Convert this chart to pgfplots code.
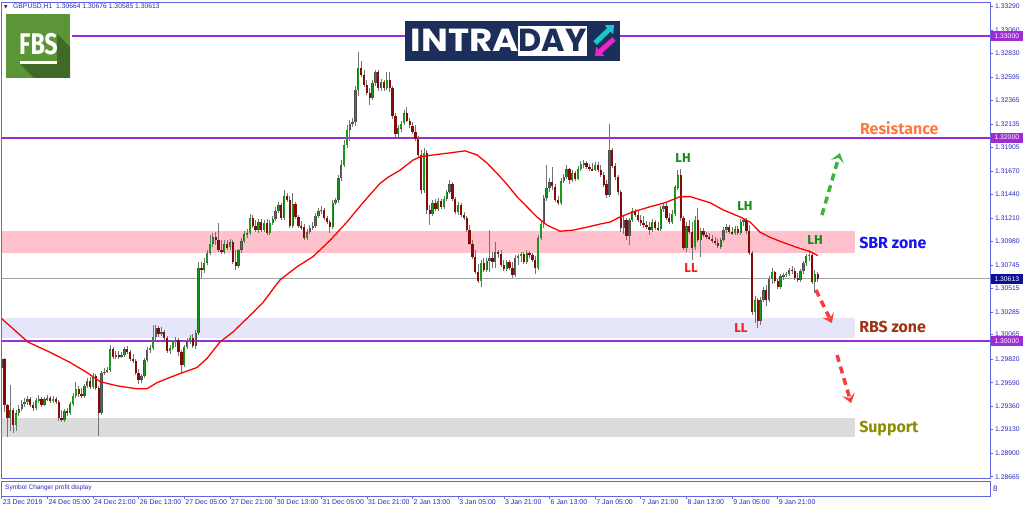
\documentclass[border=0pt]{standalone}
\usepackage{pgfplots}
\pgfplotsset{compat=1.18}
\usepackage{pgfplotstable}
\usetikzlibrary{arrows.meta}
\usepackage{fontspec}
\setmainfont{Liberation Sans}
\newfontfamily\fira{Fira Sans}
\newfontfamily\pop{Poppins}
\newfontfamily\dejavu{DejaVu Sans}
\definecolor{frame}{RGB}{100,100,225}
\definecolor{lab}{RGB}{40,40,190}
\definecolor{purp}{RGB}{155,45,210}
\definecolor{upg}{RGB}{25,155,25}
\definecolor{dnr}{RGB}{135,10,10}
\definecolor{wick}{RGB}{115,115,115}
\definecolor{sbr}{RGB}{255,194,205}
\definecolor{rbs}{RGB}{230,230,250}
\definecolor{sup}{RGB}{220,220,220}
\definecolor{res}{RGB}{255,120,60}
\definecolor{sbrt}{RGB}{20,20,240}
\definecolor{rbst}{RGB}{160,50,20}
\definecolor{supt}{RGB}{140,140,0}
\definecolor{lhg}{RGB}{20,140,20}
\definecolor{llr}{RGB}{250,30,30}
\definecolor{arrg}{RGB}{60,180,60}
\definecolor{arrr}{RGB}{250,60,60}
\definecolor{navy}{RGB}{28,46,90}
\definecolor{fbsg}{RGB}{92,148,56}
\definecolor{fbsd}{RGB}{62,105,38}
\definecolor{cyanA}{RGB}{25,200,205}
\definecolor{magA}{RGB}{230,40,200}
\definecolor{curblue}{RGB}{15,15,150}
\definecolor{curline}{RGB}{165,165,165}

\pgfplotstableread{
i o h l c
0 1.2974 1.2984 1.2973 1.2982
1 1.2982 1.2983 1.2930 1.2937
2 1.2937 1.2938 1.2906 1.2924
3 1.2924 1.2957 1.2912 1.2932
4 1.2932 1.2934 1.2910 1.2917
5 1.2917 1.2932 1.2912 1.2929
6 1.2929 1.2937 1.2926 1.2933
7 1.2933 1.2942 1.2931 1.2938
8 1.2938 1.2944 1.2935 1.2940
9 1.2940 1.2946 1.2937 1.2943
10 1.2943 1.2945 1.2935 1.2937
11 1.2937 1.2940 1.2931 1.2934
12 1.2934 1.2944 1.2932 1.2942
13 1.2942 1.2947 1.2939 1.2943
14 1.2943 1.2945 1.2935 1.2937
15 1.2937 1.2945 1.2936 1.2943
16 1.2943 1.2947 1.2941 1.2944
17 1.2944 1.2946 1.2939 1.2941
18 1.2941 1.2946 1.2939 1.2943
19 1.2943 1.2945 1.2938 1.2940
20 1.2940 1.2942 1.2921 1.2924
21 1.2924 1.2932 1.2920 1.2922
22 1.2922 1.2933 1.2920 1.2931
23 1.2931 1.2934 1.2926 1.2929
24 1.2929 1.2940 1.2927 1.2938
25 1.2938 1.2949 1.2936 1.2946
26 1.2946 1.2960 1.2944 1.2953
27 1.2953 1.2956 1.2945 1.2948
28 1.2948 1.2954 1.2944 1.2946
29 1.2946 1.2958 1.2944 1.2956
30 1.2956 1.2964 1.2954 1.2961
31 1.2961 1.2965 1.2953 1.2955
32 1.2955 1.2969 1.2953 1.2966
33 1.2966 1.2968 1.2952 1.2954
34 1.2954 1.2956 1.2907 1.2929
35 1.2929 1.2971 1.2927 1.2969
36 1.2969 1.2973 1.2967 1.2970
37 1.2970 1.2974 1.2969 1.2972
38 1.2972 1.2996 1.2970 1.2992
39 1.2992 1.2994 1.2982 1.2984
40 1.2984 1.2990 1.2982 1.2986
41 1.2986 1.2990 1.2982 1.2985
42 1.2985 1.2989 1.2983 1.2986
43 1.2986 1.2994 1.2984 1.2992
44 1.2992 1.2995 1.2987 1.2989
45 1.2989 1.2991 1.2980 1.2982
46 1.2982 1.2987 1.2978 1.2980
47 1.2980 1.2982 1.2967 1.2969
48 1.2969 1.2973 1.2958 1.2962
49 1.2962 1.2968 1.2959 1.2966
50 1.2966 1.2983 1.2964 1.2981
51 1.2981 1.2994 1.2979 1.2991
52 1.2991 1.2996 1.2988 1.2993
53 1.2993 1.3016 1.2991 1.3004
54 1.3004 1.3016 1.3001 1.3013
55 1.3013 1.3015 1.3004 1.3007
56 1.3007 1.3014 1.3005 1.3009
57 1.3009 1.3011 1.3001 1.3003
58 1.3003 1.3005 1.2988 1.2990
59 1.2990 1.2996 1.2987 1.2993
60 1.2993 1.3001 1.2991 1.2999
61 1.2999 1.3004 1.2994 1.3001
62 1.3001 1.3003 1.2985 1.2989
63 1.2989 1.2991 1.2969 1.2976
64 1.2976 1.2996 1.2974 1.2994
65 1.2994 1.3003 1.2992 1.3000
66 1.3000 1.3006 1.2997 1.3003
67 1.3003 1.3007 1.2993 1.2995
68 1.2995 1.3011 1.2992 1.3008
69 1.3008 1.3078 1.3006 1.3072
70 1.3072 1.3078 1.3062 1.3070
71 1.3070 1.3082 1.3067 1.3077
72 1.3077 1.3090 1.3075 1.3087
73 1.3087 1.3104 1.3085 1.3096
74 1.3096 1.3106 1.3093 1.3102
75 1.3102 1.3107 1.3095 1.3099
76 1.3099 1.3116 1.3088 1.3090
77 1.3090 1.3099 1.3086 1.3088
78 1.3088 1.3099 1.3086 1.3096
79 1.3096 1.3099 1.3090 1.3092
80 1.3092 1.3100 1.3090 1.3097
81 1.3097 1.3099 1.3076 1.3078
82 1.3078 1.3090 1.3070 1.3074
83 1.3074 1.3091 1.3072 1.3090
84 1.3090 1.3101 1.3087 1.3098
85 1.3098 1.3108 1.3096 1.3105
86 1.3105 1.3110 1.3101 1.3106
87 1.3106 1.3125 1.3104 1.3121
88 1.3121 1.3124 1.3111 1.3113
89 1.3113 1.3119 1.3107 1.3109
90 1.3109 1.3120 1.3106 1.3117
91 1.3117 1.3120 1.3107 1.3109
92 1.3109 1.3119 1.3107 1.3116
93 1.3116 1.3120 1.3104 1.3106
94 1.3106 1.3119 1.3104 1.3116
95 1.3116 1.3123 1.3114 1.3120
96 1.3120 1.3132 1.3118 1.3128
97 1.3128 1.3137 1.3126 1.3134
98 1.3134 1.3136 1.3119 1.3121
99 1.3121 1.3149 1.3119 1.3143
100 1.3143 1.3146 1.3137 1.3139
101 1.3139 1.3143 1.3111 1.3113
102 1.3113 1.3146 1.3111 1.3135
103 1.3135 1.3137 1.3120 1.3122
104 1.3122 1.3124 1.3111 1.3113
105 1.3113 1.3118 1.3109 1.3112
106 1.3112 1.3115 1.3099 1.3101
107 1.3101 1.3110 1.3099 1.3107
108 1.3107 1.3114 1.3105 1.3111
109 1.3111 1.3117 1.3109 1.3113
110 1.3113 1.3126 1.3111 1.3123
111 1.3123 1.3131 1.3121 1.3128
112 1.3128 1.3133 1.3125 1.3129
113 1.3129 1.3131 1.3119 1.3121
114 1.3121 1.3123 1.3115 1.3117
115 1.3117 1.3119 1.3106 1.3112
116 1.3112 1.3139 1.3110 1.3136
117 1.3136 1.3141 1.3134 1.3139
118 1.3139 1.3163 1.3136 1.3160
119 1.3160 1.3178 1.3157 1.3173
120 1.3173 1.3198 1.3171 1.3193
121 1.3193 1.3213 1.3190 1.3208
122 1.3208 1.3217 1.3197 1.3214
123 1.3214 1.3219 1.3211 1.3215
124 1.3215 1.3251 1.3212 1.3247
125 1.3247 1.3284 1.3241 1.3269
126 1.3269 1.3275 1.3260 1.3262
127 1.3262 1.3267 1.3250 1.3252
128 1.3252 1.3257 1.3242 1.3244
129 1.3244 1.3249 1.3232 1.3239
130 1.3239 1.3257 1.3237 1.3254
131 1.3254 1.3267 1.3251 1.3265
132 1.3265 1.3267 1.3246 1.3249
133 1.3249 1.3258 1.3246 1.3255
134 1.3255 1.3257 1.3246 1.3249
135 1.3249 1.3265 1.3247 1.3257
136 1.3257 1.3265 1.3245 1.3249
137 1.3249 1.3251 1.3218 1.3221
138 1.3221 1.3224 1.3201 1.3204
139 1.3204 1.3212 1.3201 1.3209
140 1.3209 1.3216 1.3206 1.3214
141 1.3214 1.3227 1.3212 1.3224
142 1.3224 1.3230 1.3215 1.3216
143 1.3216 1.3219 1.3210 1.3212
144 1.3212 1.3215 1.3204 1.3206
145 1.3206 1.3212 1.3197 1.3199
146 1.3199 1.3202 1.3180 1.3183
147 1.3183 1.3188 1.3145 1.3149
148 1.3149 1.3190 1.3146 1.3185
149 1.3185 1.3188 1.3125 1.3129
150 1.3129 1.3134 1.3114 1.3125
151 1.3125 1.3139 1.3123 1.3136
152 1.3136 1.3140 1.3128 1.3130
153 1.3130 1.3141 1.3128 1.3138
154 1.3138 1.3140 1.3130 1.3132
155 1.3132 1.3143 1.3130 1.3140
156 1.3140 1.3149 1.3138 1.3147
157 1.3147 1.3158 1.3145 1.3154
158 1.3154 1.3156 1.3138 1.3140
159 1.3140 1.3142 1.3125 1.3127
160 1.3127 1.3137 1.3124 1.3134
161 1.3134 1.3136 1.3122 1.3124
162 1.3124 1.3127 1.3119 1.3121
163 1.3121 1.3123 1.3107 1.3109
164 1.3109 1.3114 1.3094 1.3096
165 1.3096 1.3099 1.3081 1.3083
166 1.3083 1.3090 1.3066 1.3068
167 1.3068 1.3076 1.3057 1.3059
168 1.3059 1.3080 1.3053 1.3077
169 1.3077 1.3082 1.3068 1.3070
170 1.3070 1.3082 1.3068 1.3079
171 1.3079 1.3109 1.3068 1.3082
172 1.3082 1.3088 1.3072 1.3078
173 1.3078 1.3097 1.3072 1.3088
174 1.3088 1.3090 1.3082 1.3086
175 1.3086 1.3090 1.3073 1.3075
176 1.3075 1.3080 1.3069 1.3071
177 1.3071 1.3080 1.3069 1.3078
178 1.3078 1.3080 1.3070 1.3072
179 1.3072 1.3078 1.3062 1.3065
180 1.3065 1.3085 1.3063 1.3082
181 1.3082 1.3086 1.3075 1.3084
182 1.3084 1.3088 1.3078 1.3086
183 1.3086 1.3088 1.3076 1.3078
184 1.3078 1.3090 1.3076 1.3087
185 1.3087 1.3089 1.3082 1.3085
186 1.3085 1.3087 1.3078 1.3080
187 1.3080 1.3084 1.3066 1.3072
188 1.3072 1.3104 1.3070 1.3101
189 1.3101 1.3119 1.3099 1.3115
190 1.3115 1.3144 1.3111 1.3141
191 1.3141 1.3173 1.3138 1.3151
192 1.3151 1.3160 1.3147 1.3156
193 1.3156 1.3171 1.3149 1.3152
194 1.3152 1.3155 1.3137 1.3139
195 1.3139 1.3143 1.3134 1.3136
196 1.3136 1.3160 1.3134 1.3157
197 1.3157 1.3164 1.3155 1.3161
198 1.3161 1.3173 1.3159 1.3169
199 1.3169 1.3170 1.3155 1.3158
200 1.3158 1.3168 1.3156 1.3165
201 1.3165 1.3167 1.3157 1.3159
202 1.3159 1.3172 1.3158 1.3169
203 1.3169 1.3177 1.3167 1.3174
204 1.3174 1.3178 1.3170 1.3175
205 1.3175 1.3177 1.3169 1.3171
206 1.3171 1.3174 1.3167 1.3169
207 1.3169 1.3175 1.3167 1.3168
208 1.3168 1.3176 1.3167 1.3173
209 1.3173 1.3176 1.3166 1.3168
210 1.3168 1.3173 1.3161 1.3163
211 1.3163 1.3166 1.3152 1.3154
212 1.3154 1.3158 1.3141 1.3144
213 1.3144 1.3213 1.3142 1.3188
214 1.3188 1.3190 1.3170 1.3172
215 1.3172 1.3175 1.3158 1.3161
216 1.3161 1.3163 1.3144 1.3147
217 1.3147 1.3149 1.3107 1.3111
218 1.3111 1.3124 1.3105 1.3119
219 1.3119 1.3121 1.3099 1.3103
220 1.3103 1.3121 1.3094 1.3119
221 1.3119 1.3131 1.3117 1.3128
222 1.3128 1.3130 1.3122 1.3124
223 1.3124 1.3128 1.3117 1.3119
224 1.3119 1.3124 1.3113 1.3116
225 1.3116 1.3123 1.3111 1.3114
226 1.3114 1.3118 1.3110 1.3112
227 1.3112 1.3117 1.3104 1.3109
228 1.3109 1.3120 1.3107 1.3117
229 1.3117 1.3119 1.3109 1.3111
230 1.3111 1.3117 1.3108 1.3110
231 1.3110 1.3133 1.3108 1.3130
232 1.3130 1.3136 1.3127 1.3133
233 1.3133 1.3136 1.3119 1.3121
234 1.3121 1.3126 1.3115 1.3117
235 1.3117 1.3129 1.3115 1.3125
236 1.3125 1.3154 1.3123 1.3151
237 1.3151 1.3168 1.3149 1.3163
238 1.3163 1.3169 1.3118 1.3121
239 1.3121 1.3123 1.3090 1.3092
240 1.3092 1.3117 1.3088 1.3113
241 1.3113 1.3119 1.3105 1.3107
242 1.3107 1.3117 1.3080 1.3092
243 1.3092 1.3123 1.3090 1.3119
244 1.3119 1.3131 1.3097 1.3099
245 1.3099 1.3111 1.3083 1.3108
246 1.3108 1.3111 1.3102 1.3104
247 1.3104 1.3107 1.3100 1.3102
248 1.3102 1.3106 1.3099 1.3100
249 1.3100 1.3104 1.3096 1.3098
250 1.3098 1.3102 1.3094 1.3096
251 1.3096 1.3100 1.3092 1.3093
252 1.3093 1.3101 1.3091 1.3099
253 1.3099 1.3112 1.3097 1.3109
254 1.3109 1.3115 1.3106 1.3112
255 1.3112 1.3114 1.3105 1.3107
256 1.3107 1.3112 1.3104 1.3106
257 1.3106 1.3113 1.3104 1.3110
258 1.3110 1.3113 1.3104 1.3106
259 1.3106 1.3120 1.3104 1.3117
260 1.3117 1.3121 1.3113 1.3119
261 1.3119 1.3121 1.3105 1.3108
262 1.3108 1.3114 1.3085 1.3087
263 1.3087 1.3089 1.3026 1.3029
264 1.3029 1.3044 1.3018 1.3040
265 1.3040 1.3042 1.3013 1.3020
266 1.3020 1.3043 1.3016 1.3040
267 1.3040 1.3053 1.3038 1.3050
268 1.3050 1.3055 1.3035 1.3040
269 1.3040 1.3064 1.3038 1.3061
270 1.3061 1.3072 1.3056 1.3068
271 1.3068 1.3069 1.3057 1.3059
272 1.3059 1.3061 1.3051 1.3053
273 1.3053 1.3066 1.3051 1.3064
274 1.3064 1.3067 1.3060 1.3065
275 1.3065 1.3068 1.3063 1.3066
276 1.3066 1.3072 1.3064 1.3070
277 1.3070 1.3074 1.3066 1.3069
278 1.3069 1.3072 1.3060 1.3062
279 1.3062 1.3067 1.3058 1.3060
280 1.3060 1.3071 1.3058 1.3069
281 1.3069 1.3079 1.3066 1.3077
282 1.3077 1.3086 1.3074 1.3084
283 1.3084 1.3090 1.3079 1.3085
284 1.3085 1.3088 1.3056 1.3058
285 1.3058 1.3070 1.3047 1.3066
286 1.30664 1.30676 1.30585 1.30613
}\candles

\begin{document}
\begin{tikzpicture}
\begin{axis}[
  at={(1.7bp,33bp)}, anchor=south west, scale only axis,
  width=988.3bp, height=476bp,
  xmin=0, xmax=346.4, ymin=1.28653, ymax=1.33334,
  axis line style={draw=frame, line width=0.9bp},
  xtick=\empty,
  ytick={1.33290,1.33060,1.32830,1.32595,1.32365,1.32135,1.31905,1.31670,1.31440,1.31210,1.30980,1.30745,1.30515,1.30285,1.30065,1.29820,1.29590,1.29360,1.29130,1.28900,1.28665},
  yticklabels={1.33290,1.33060,1.32830,1.32595,1.32365,1.32135,1.31905,1.31670,1.31440,1.31210,1.30980,1.30745,1.30515,1.30285,1.30065,1.29820,1.29590,1.29360,1.29130,1.28900,1.28665},
  ytick pos=right, yticklabel pos=right,
  tick align=outside, major tick length=3bp,
  tick style={draw=frame, line width=0.6bp},
  yticklabel style={font=\fontsize{6.8}{7}\selectfont, text=lab, anchor=west, inner sep=0.5bp, xshift=1.5bp},
  candle/.style={forget plot, draw=none, no markers,
    error bars/.cd, y dir=both, y explicit, error mark=none},
]
% zones
\fill[sbr] (axis cs:0,1.30866) rectangle (axis cs:299.1,1.31082);
\fill[rbs] (axis cs:0,1.30030) rectangle (axis cs:299.1,1.30226);
\fill[sup] (axis cs:0,1.29056) rectangle (axis cs:299.1,1.29243);
% level lines
\addplot[purp, line width=1.8bp, forget plot] coordinates {(24.6,1.33) (346.4,1.33)};
\addplot[purp, line width=1.8bp, forget plot] coordinates {(0,1.32) (346.4,1.32)};
\addplot[purp, line width=1.8bp, forget plot] coordinates {(0,1.30) (346.4,1.30)};
\addplot[curline, line width=0.8bp, forget plot] coordinates {(0,1.30613) (346.4,1.30613)};
% wicks
\addplot[candle, error bar style={draw=wick, line width=0.8bp}]
  table[x=i, y expr={(\thisrow{h}+\thisrow{l})/2}, y error expr={(\thisrow{h}-\thisrow{l})/2}] {\candles};
% bull bodies (outline + fill)
\addplot[candle, error bar style={draw=black!70, line width=2.3bp}]
  table[x=i, y expr={(\thisrow{o}+\thisrow{c})/2}, y error expr={ifthenelse(\thisrow{c}>\thisrow{o}, max(abs(\thisrow{c}-\thisrow{o})/2,0.00004), 0)}] {\candles};
\addplot[candle, error bar style={draw=upg, line width=1.3bp}]
  table[x=i, y expr={(\thisrow{o}+\thisrow{c})/2}, y error expr={ifthenelse(\thisrow{c}>\thisrow{o}, max(abs(\thisrow{c}-\thisrow{o})/2-0.00003,0.00001), 0)}] {\candles};
% bear bodies
\addplot[candle, error bar style={draw=dnr, line width=2.3bp}]
  table[x=i, y expr={(\thisrow{o}+\thisrow{c})/2}, y error expr={ifthenelse(\thisrow{c}>\thisrow{o}, 0, max(abs(\thisrow{c}-\thisrow{o})/2,0.00004))}] {\candles};
% moving average
\addplot[red, line width=1.3bp, forget plot] coordinates {
(0,1.3022) (9.2,1.2999) (16.9,1.2989) (23.9,1.2979) (29.9,1.2969) (34.5,1.2960) (40.4,1.2956) (47.4,1.2953) (50.9,1.2953) (54.4,1.2959) (57.9,1.2963) (62.5,1.2968) (68.5,1.2974) (72.0,1.2983) (76.5,1.2999) (81.1,1.3009) (88.1,1.3028) (91.6,1.3038) (97.5,1.3060) (103.5,1.3073) (109.1,1.3083) (115.1,1.3099) (121.0,1.3117) (126.6,1.3136) (132.6,1.3155) (135.4,1.3161) (139.6,1.3168) (144.2,1.3178) (146.6,1.3181) (151.2,1.3183) (157.1,1.3185) (162.4,1.3187) (166.6,1.3183) (170.1,1.3175) (173.6,1.3165) (177.1,1.3154) (180.6,1.3142) (184.1,1.3132) (187.6,1.3122) (191.1,1.3114) (195.7,1.3108) (200.2,1.3109) (205.2,1.3112) (209.7,1.3115) (213.2,1.3117) (216.7,1.3122) (221.3,1.3127) (227.2,1.3132) (232.5,1.3136) (237.8,1.3142) (241.3,1.3142) (244.8,1.3139) (248.3,1.3136) (252.8,1.3129) (258.8,1.3122) (262.3,1.3117) (265.8,1.3107) (269.3,1.3102) (273.8,1.3097) (278.8,1.3092) (283.3,1.3088) (286.1,1.3084)};
% annotations
\node[anchor=west, inner sep=0, font=\fira\bfseries\fontsize{16}{16}\selectfont, text=res] at (axis cs:300.8,1.32095) {Resistance};
\node[anchor=west, inner sep=0, font=\fira\bfseries\fontsize{16}{16}\selectfont, text=sbrt] at (axis cs:300.5,1.30964) {SBR zone};
\node[anchor=west, inner sep=0, font=\fira\bfseries\fontsize{16}{16}\selectfont, text=rbst] at (axis cs:300.5,1.30138) {RBS zone};
\node[anchor=west, inner sep=0, font=\fira\bfseries\fontsize{16}{16}\selectfont, text=supt] at (axis cs:300.5,1.29135) {Support};
\node[inner sep=0, font=\fira\bfseries\fontsize{13}{13}\selectfont, text=lhg] at (axis cs:238.8,1.3180) {LH};
\node[inner sep=0, font=\fira\bfseries\fontsize{13}{13}\selectfont, text=lhg] at (axis cs:260.5,1.31328) {LH};
\node[inner sep=0, font=\fira\bfseries\fontsize{13}{13}\selectfont, text=lhg] at (axis cs:285.1,1.30994) {LH};
\node[inner sep=0, font=\fira\bfseries\fontsize{13}{13}\selectfont, text=llr] at (axis cs:241.6,1.30718) {LL};
\node[inner sep=0, font=\fira\bfseries\fontsize{13}{13}\selectfont, text=llr] at (axis cs:259.1,1.30128) {LL};
\draw[arrg, line width=3.5bp, dash pattern=on 7bp off 5bp, -{Stealth[length=9bp,width=13bp,inset=4bp]}] (axis cs:287.5,1.31239) -- (axis cs:293.8,1.31849);
\draw[arrr, line width=3.5bp, dash pattern=on 7bp off 5bp, -{Stealth[length=9bp,width=13bp,inset=4bp]}] (axis cs:285.4,1.30502) -- (axis cs:291.0,1.30177);
\draw[arrr, line width=3.5bp, dash pattern=on 7bp off 5bp, -{Stealth[length=9bp,width=13bp,inset=4bp]}] (axis cs:292.8,1.29862) -- (axis cs:297.7,1.29390);
\coordinate (p133) at (axis cs:346.4,1.33);
\coordinate (p132) at (axis cs:346.4,1.32);
\coordinate (p130) at (axis cs:346.4,1.30);
\coordinate (pcur) at (axis cs:346.4,1.30613);
\end{axis}
% indicator sub-window
\begin{axis}[
  at={(1.7bp,15bp)}, anchor=south west, scale only axis,
  width=988.3bp, height=15bp,
  xmin=0, xmax=346.4, ymin=0, ymax=1,
  axis line style={draw=frame, line width=0.9bp},
  ytick=\empty,
  xtick={0,16,...,272},
  xticklabels={23 Dec 2019,24 Dec 05:00,24 Dec 21:00,26 Dec 13:00,27 Dec 05:00,27 Dec 21:00,30 Dec 13:00,31 Dec 05:00,31 Dec 21:00,2 Jan 13:00,3 Jan 05:00,3 Jan 21:00,6 Jan 13:00,7 Jan 05:00,7 Jan 21:00,8 Jan 13:00,9 Jan 05:00,9 Jan 21:00},
  xtick pos=bottom, tick align=outside, major tick length=3bp,
  tick style={draw=frame, line width=0.6bp},
  xticklabel style={font=\fontsize{7}{7}\selectfont, text=lab, anchor=north west, inner sep=0.5bp, xshift=0.5bp, yshift=0.5bp},
]
\end{axis}
% price boxes on the right scale
\foreach \c/\t in {p133/1.33000,p132/1.32000,p130/1.30000}{
  \node[fill=purp, text=white, font=\fontsize{6.8}{7}\selectfont, inner sep=0, minimum width=32bp, minimum height=10bp, anchor=west] at ([xshift=0.6bp]\c) {\t};
}
\node[fill=curblue, text=white, font=\fontsize{6.8}{7}\selectfont, inner sep=0, minimum width=32bp, minimum height=10bp, anchor=west] at ([xshift=0.6bp]pcur) {1.30613};
% header and sub-window text
\node[anchor=west, inner sep=0, text=curblue, font=\dejavu\fontsize{4.5}{5}\selectfont] at (4bp,504bp) {▼};
\node[anchor=west, inner sep=0, text=lab, font=\fontsize{6.8}{7}\selectfont] at (13bp,504bp) {GBPUSD,H1\ \ 1.30664 1.30676 1.30585 1.30613};
\node[anchor=west, inner sep=0, text=lab, font=\fontsize{6.5}{7}\selectfont] at (5bp,23bp) {Symbol Changer profit display};
\node[anchor=west, inner sep=0, text=lab, font=\fontsize{8}{8}\selectfont] at (993bp,22bp) {8};
% FBS logo
\fill[fbsg] (6bp,433bp) rectangle (70bp,497bp);
\fill[fbsd] (57bp,477bp) -- (70bp,464bp) -- (70bp,433bp) -- (34bp,433bp) -- (20bp,447bp) -- (57bp,447bp) -- cycle;
\node[anchor=base, inner sep=0, text=white, xscale=0.78, font=\fira\bfseries\fontsize{30}{30}\selectfont] at (38.5bp,456bp) {FBS};
\fill[white] (20bp,447bp) rectangle (57bp,450bp);
% INTRADAY logo
\fill[navy] (405bp,450bp) rectangle (620bp,490bp);
\fill[white] (518bp,455bp) rectangle (587bp,485bp);
\node[anchor=base, inner sep=0, text=white, xscale=1.12, font=\pop\bfseries\fontsize{32}{32}\selectfont] at (465bp,459bp) {INTRA};
\node[anchor=base, inner sep=0, text=navy, font=\pop\bfseries\fontsize{32}{32}\selectfont] at (552.5bp,459bp) {DAY};
\draw[cyanA, line width=5bp, -{Triangle[length=7bp,width=12bp]}] (595bp,468bp) -- (614bp,486bp);
\draw[magA, line width=5bp, -{Triangle[length=7bp,width=12bp]}] (614bp,472bp) -- (595bp,455bp);
\pgfresetboundingbox
\path[use as bounding box] (0,0) rectangle (1024bp,511bp);
\end{tikzpicture}
\end{document}
